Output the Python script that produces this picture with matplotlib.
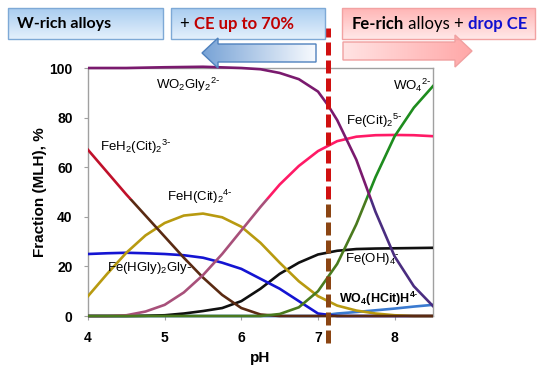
import numpy as np
import matplotlib
matplotlib.use("Agg")
import matplotlib.pyplot as plt
from matplotlib.patches import Rectangle, Polygon
from matplotlib.colors import LinearSegmentedColormap

plt.rcParams['font.family'] = ['Liberation Sans', 'DejaVu Sans']
plt.rcParams['mathtext.default'] = 'regular'

# ---------------- data ----------------
ph_wo2gly2 = [4.0, 4.5, 5.0, 5.5, 6.0, 6.25, 6.5, 6.75, 7.0, 7.13, 7.25, 7.5, 7.75, 8.0, 8.25, 8.5]
wo2gly2 = [100, 100, 100.3, 100.5, 100, 99.5, 98, 95.5, 90.5, 85, 79, 63, 42, 24, 12, 4]

ph_common = [4.0, 4.25, 4.5, 4.75, 5.0, 5.25, 5.5, 5.75, 6.0, 6.25, 6.5, 6.75, 7.0,
             7.25, 7.5, 7.75, 8.0, 8.25, 8.5]
feh2cit2 = [67, 58, 49, 40.5, 32, 23.5, 15.5, 8.5, 3.2, 0.6, 0, 0, 0, 0, 0, 0, 0, 0, 0]
fehcit2 = [8, 17, 25.5, 32.5, 37.5, 40.5, 41.3, 39.8, 36, 29.5, 21.5, 14, 8, 4.2, 2.2, 1, 0.3, 0, 0]
fehgly2gly = [25, 25.3, 25.5, 25.3, 25, 24.5, 23.5, 21.5, 19, 15, 11, 6, 1, 0, 0, 0, 0, 0, 0]
fecit2 = [0, 0, 0.3, 1.8, 4.5, 9.5, 16.5, 25, 34.5, 44, 53, 60.5, 66.5, 70.5, 72.3, 72.9, 73, 72.9, 72.5]
wo4 = [0, 0, 0, 0, 0, 0, 0, 0, 0, 0, 0.8, 3.5, 10, 21, 37, 56, 72.5, 84, 92.7]
feoh4 = [0, 0, 0, 0.1, 0.3, 1, 2, 3.2, 6, 11, 17, 21.5, 24.8, 26.3, 27, 27.2, 27.3, 27.4, 27.5]
wo4hcit = [0, 0, 0, 0, 0, 0, 0, 0, 0, 0, 0, 0, 0, 1, 1.6, 2.3, 3, 3.8, 4.5]

ph_boundary = 7.13
x_ticks = [4, 5, 6, 7, 8]
y_ticks = [0, 20, 40, 60, 80, 100]

# ---------------- figure ----------------
fig = plt.figure(figsize=(5.5, 3.81), dpi=100)
ax = fig.add_axes([88/550, 1-316/381, (433-88)/550, (316-68)/381])
ax.set_xlim(4, 8.5)
ax.set_ylim(0, 100)

SPLIT = 47


def clipped(line, x0, x1, y0, y1):
    line.set_clip_path(Rectangle((x0, y0), x1-x0, y1-y0, transform=ax.transData))


def split_plot(x, y, c_top, c_bot, lw=1.9):
    l1, = ax.plot(x, y, color=c_top, lw=lw, zorder=3, solid_joinstyle='round')
    clipped(l1, 4, 8.5, SPLIT, 103)
    l2, = ax.plot(x, y, color=c_bot, lw=lw, zorder=3, solid_joinstyle='round')
    clipped(l2, 4, 8.5, -3, SPLIT)


split_plot(ph_common, wo4hcit, '#3A7AD0', '#3A7AD0')
split_plot(ph_common, feoh4, '#101010', '#101010')
split_plot(ph_common, fehgly2gly, '#1414D2', '#1414D2')
split_plot(ph_common, fehcit2, '#B89A10', '#B89A10')
split_plot(ph_common, feh2cit2, '#C0102A', '#5A2A12')
split_plot(ph_common, fecit2, '#FF1A66', '#A8507A')
split_plot(ph_common, wo4, '#1E8C1E', '#4A7A1E')
split_plot(ph_wo2gly2, wo2gly2, '#7A1A6E', '#4A2D80')

# boundary dashed line
for c, (y0, y1) in [('#D01010', (SPLIT, 130)), ('#8B4513', (-20, SPLIT))]:
    ln, = ax.plot([ph_boundary, ph_boundary], [-11, 116], color=c, lw=3.6, zorder=6)
    ln.set_dashes((2.6, 1.0))
    clipped(ln, 3, 9, y0, y1)

for s in ax.spines.values():
    s.set_color('#A0A0A0')
    s.set_linewidth(1.0)
ax.set_xticks(x_ticks)
ax.set_yticks(y_ticks)
ax.tick_params(direction='out', length=3, color='#A0A0A0', pad=8, labelsize=10)
for t in ax.get_xticklabels() + ax.get_yticklabels():
    t.set_fontweight('bold')
ax.set_xlabel('pH', fontsize=11, fontweight='bold', labelpad=4)
ax.set_ylabel('Fraction (MLH), %', fontsize=11, fontweight='bold', labelpad=2)

# species labels
lab = dict(fontsize=9.5, zorder=7)
ax.text(5.30, 93, r'WO$_2$Gly$_2$$^{2\text{-}}$', ha='center', va='center', **lab)
ax.text(4.16, 68, r'FeH$_2$(Cit)$_2$$^{3\text{-}}$', ha='left', va='center', **lab)
ax.text(5.03, 48, r'FeH(Cit)$_2$$^{4\text{-}}$', ha='left', va='center', **lab)
ax.text(4.25, 19.5, r'Fe(HGly)$_2$Gly-', ha='left', va='center', **lab)
ax.text(8.48, 93, r'WO$_4$$^{2\text{-}}$', ha='right', va='center', **lab)
ax.text(7.36, 78.5, r'Fe(Cit)$_2$$^{5\text{-}}$', ha='left', va='center', **lab)
ax.text(7.35, 23, r'Fe(OH)$_4$$^{\text{-}}$', ha='left', va='center', **lab)
ax.text(7.28, 7, r'WO$_4$(HCit)H$^{4\text{-}}$', ha='left', va='center',
        fontweight='bold', fontsize=9, zorder=7)

# ---------------- overlay: boxes and arrows ----------------
ov = fig.add_axes([0, 0, 1, 1], zorder=10)
ov.set_xlim(0, 550)
ov.set_ylim(381, 0)
ov.axis('off')


def grad_patch(patch, c0, c1, vertical=True, extent=None):
    ov.add_patch(patch)
    cmap = LinearSegmentedColormap.from_list('g', [c0, c1])
    g = np.linspace(0, 1, 64)
    arr = g.reshape(-1, 1) if vertical else g.reshape(1, -1)
    im = ov.imshow(arr, cmap=cmap, extent=extent, origin='upper' if vertical else 'lower',
                   aspect='auto', zorder=patch.get_zorder() - 0.1, interpolation='bilinear')
    im.set_clip_path(patch)


def box(x0, y0, x1, y1, c0, c1, ec):
    p = Rectangle((x0, y0), x1-x0, y1-y0, facecolor='none', edgecolor=ec, lw=1, zorder=3)
    grad_patch(p, c0, c1, vertical=True, extent=(x0, x1, y0, y1))


blue_top, blue_bot, blue_edge = '#E4F0FC', '#A9CDF0', '#7EA9D6'
pink_top, pink_bot, pink_edge = '#FFE8E8', '#FFB5B5', '#F2A2A2'

box(8, 8, 163, 39, blue_top, blue_bot, blue_edge)
box(171, 8, 325, 39, blue_top, blue_bot, blue_edge)
box(342, 8, 535, 39, pink_top, pink_bot, pink_edge)

# left arrow
la = Polygon([(202, 53), (218, 38), (218, 44), (316, 44), (316, 62), (218, 62), (218, 68)],
             closed=True, facecolor='none', edgecolor='#4F81BD', lw=1, zorder=3)
grad_patch(la, '#78A3D6', '#F7FAFE', vertical=False, extent=(202, 316, 68, 38))
# right arrow
ra = Polygon([(343, 42), (455, 42), (455, 35), (472, 51), (455, 67), (455, 60), (343, 60)],
             closed=True, facecolor='none', edgecolor='#F0A0A0', lw=1, zorder=3)
grad_patch(ra, '#FFE3E3', '#FFA8A8', vertical=False, extent=(343, 472, 67, 35))

bf = ['Lato', 'DejaVu Sans']
fs = 12
ov.text(17, 24, 'W-rich alloys', fontsize=11.5, fontweight='bold', family=bf,
        va='center', ha='left', zorder=5)

t1 = ov.text(180, 24, '+ ', fontsize=fs, family=bf, va='center', ha='left', zorder=5)
ov.annotate('CE up to 70%', xy=(1, 0), xycoords=t1, va='bottom', ha='left',
            fontsize=fs, fontweight='bold', family=bf, color='#C00000', zorder=5)

t2 = ov.text(352, 24, 'Fe-rich', fontsize=fs, fontweight='bold', family=bf,
             va='center', ha='left', zorder=5)
t3 = ov.annotate(' alloys + ', xy=(1, 0), xycoords=t2, va='bottom', ha='left',
                 fontsize=fs, family=bf, zorder=5)
ov.annotate('drop CE', xy=(1, 0), xycoords=t3, va='bottom', ha='left',
            fontsize=fs, fontweight='bold', family=bf, color='#1010D0', zorder=5)

fig.savefig('out.png', dpi=100)
